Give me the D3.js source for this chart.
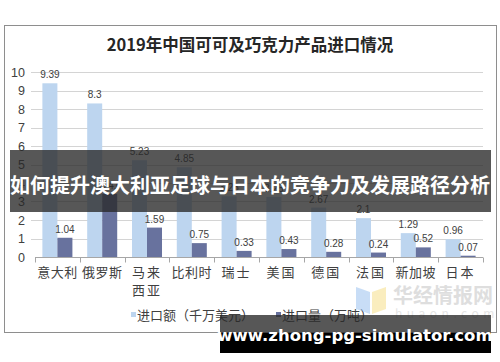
<!DOCTYPE html>
<html>
<head>
<meta charset="utf-8">
<script src="https://cdn.jsdelivr.net/npm/d3@7/dist/d3.min.js"></script>
<style>
  body { margin: 0; background: #fff; }
  svg { display: block; font-family: "Noto Sans CJK SC", "Noto Sans", sans-serif; }
</style>
</head>
<body>
<div id="chart"></div>
<script>
var categories = ["意大利", "俄罗斯", "马来西亚", "比利时", "瑞士", "美国", "德国", "法国", "新加坡", "日本"];
var importValue = [9.39, 8.3, 5.23, 4.85, 3.28, 3.25, 2.67, 2.1, 1.29, 0.96];
var importVolume = [1.04, 3.41, 1.59, 0.75, 0.33, 0.43, 0.28, 0.24, 0.52, 0.07];
var yTicks = [0, 1, 2, 3, 4, 5, 6, 7, 8, 9, 10];
var seriesNames = ["进口额（千万美元）", "进口量（万吨）"];
var colors = ["#bdd5ef", "#68729e"];

var W = 500, H = 362;
var margin = {left: 35, right: 17, top: 72, bottom: 105};

var svg = d3.select("#chart").append("svg").attr("width", W).attr("height", H);

// chart frame
svg.append("rect").attr("x", 4.5).attr("y", 25.5).attr("width", 492).attr("height", 307)
    .attr("fill", "#fff").attr("stroke", "#8e8e8e");

svg.append("text").attr("x", 250).attr("y", 51).attr("text-anchor", "middle")
    .attr("font-size", 16.5).attr("font-weight", "bold").attr("fill", "#262626")
    .text("2019年中国可可及巧克力产品进口情况");

var x = d3.scaleBand().domain(categories).range([margin.left, W - margin.right])
    .paddingInner(0.33).paddingOuter(0.165);
var y = d3.scaleLinear().domain([0, 10]).range([H - margin.bottom, margin.top]);
var x1 = d3.scaleBand().domain([0, 1]).range([0, x.bandwidth()]);

// grid
svg.append("g").selectAll("line").data(yTicks.slice(1)).enter().append("line")
    .attr("x1", margin.left - 4).attr("x2", W - margin.right)
    .attr("y1", function(d){ return Math.round(y(d)) + 0.5; })
    .attr("y2", function(d){ return Math.round(y(d)) + 0.5; })
    .attr("stroke", "#d4d4d4");

var yAxis = svg.append("g").attr("transform", "translate(" + margin.left + ",0)")
    .call(d3.axisLeft(y).tickValues(yTicks).tickSize(0).tickPadding(10));
yAxis.select(".domain").remove();
yAxis.selectAll("text").attr("font-size", 12.5).attr("fill", "#404040")
    .attr("font-family", "'Liberation Sans', Arial, sans-serif");

// bars
var series = [importValue, importVolume];
series.forEach(function(vals, si){
    svg.append("g").selectAll("rect").data(vals).enter().append("rect")
        .attr("x", function(d, i){ return x(categories[i]) + x1(si); })
        .attr("width", x1.bandwidth())
        .attr("y", function(d){ return y(d); })
        .attr("height", function(d){ return y(0) - y(d); })
        .attr("fill", colors[si]);
    svg.append("g").selectAll("text").data(vals).enter().append("text")
        .attr("x", function(d, i){ return x(categories[i]) + x1(si) + x1.bandwidth() / 2; })
        .attr("y", function(d){ return y(d) - 5; })
        .attr("text-anchor", "middle").attr("font-size", 10).attr("fill", "#404040")
        .attr("font-family", "'Liberation Sans', Arial, sans-serif")
        .text(function(d){ return d; });
});

// x axis
var xAxis = svg.append("g").attr("transform", "translate(0," + (Math.round(y(0)) + 0.5) + ")");
xAxis.append("line").attr("x1", margin.left).attr("x2", W - margin.right).attr("stroke", "#a6a6a6");
var step = x.step();
xAxis.selectAll(".tk").data(d3.range(categories.length + 1)).enter().append("line")
    .attr("x1", function(i){ return Math.round(margin.left + i * step) + 0.5; })
    .attr("x2", function(i){ return Math.round(margin.left + i * step) + 0.5; })
    .attr("y1", 0).attr("y2", 5).attr("stroke", "#a6a6a6");
categories.forEach(function(c, i){
    var cx = x(c) + x.bandwidth() / 2;
    var lines = c.length > 3 ? [c.slice(0, 2), c.slice(2)] : [c];
    lines.forEach(function(t, li){
        svg.append("text").attr("x", cx).attr("y", 277 + li * 18).attr("text-anchor", "middle")
            .attr("font-size", 13).attr("fill", "#404040")
            .attr("letter-spacing", t.length < 3 ? 2 : 0.5).text(t);
    });
});

// legend
var legendX = [131, 276];
seriesNames.forEach(function(n, i){
    svg.append("rect").attr("x", legendX[i]).attr("y", 312).attr("width", 5).attr("height", 5).attr("fill", colors[i]);
    svg.append("text").attr("x", legendX[i] + 6).attr("y", 319.5).attr("font-size", 13)
        .attr("fill", "#404040").text(n);
});

// watermark logo
var logo = svg.append("g").attr("opacity", 0.55);
logo.append("polygon").attr("points", "356,287 370,292 370,314 356,309").attr("fill", "#9cc3f0");
logo.append("polygon").attr("points", "372,292 386,287 386,309 372,314").attr("fill", "#f6e08a");
logo.append("text").attr("x", 393).attr("y", 303).attr("font-size", 20).attr("font-weight", "bold")
    .attr("fill", "#c4c4c4").text("华经情报网");
logo.append("text").attr("x", 395).attr("y", 318).attr("font-size", 12).attr("letter-spacing", 4.5)
    .attr("fill", "#d0d0d0").text("huaon.com");

// banner overlay
svg.append("rect").attr("x", 10).attr("y", 150).attr("width", 481).attr("height", 62)
    .attr("fill", "rgba(40,40,40,0.78)");
svg.append("text").attr("x", 250).attr("y", 193).attr("text-anchor", "middle")
    .attr("font-size", 20).attr("font-weight", "bold").attr("fill", "#fff")
    .text("如何提升澳大利亚足球与日本的竞争力及发展路径分析");

// url overlay
svg.append("rect").attr("x", 220).attr("y", 315).attr("width", 271).attr("height", 18).attr("fill", "rgba(40,40,40,0.78)");
svg.append("rect").attr("x", 220).attr("y", 333).attr("width", 271).attr("height", 20).attr("fill", "#000");
svg.append("text").attr("x", 355).attr("y", 341).attr("text-anchor", "middle")
    .attr("font-size", 16.5).attr("font-weight", "bold").attr("fill", "#fff")
    .attr("font-family", "'DejaVu Sans', sans-serif")
    .text("www.zhong-pg-simulator.com");
</script>
</body>
</html>
